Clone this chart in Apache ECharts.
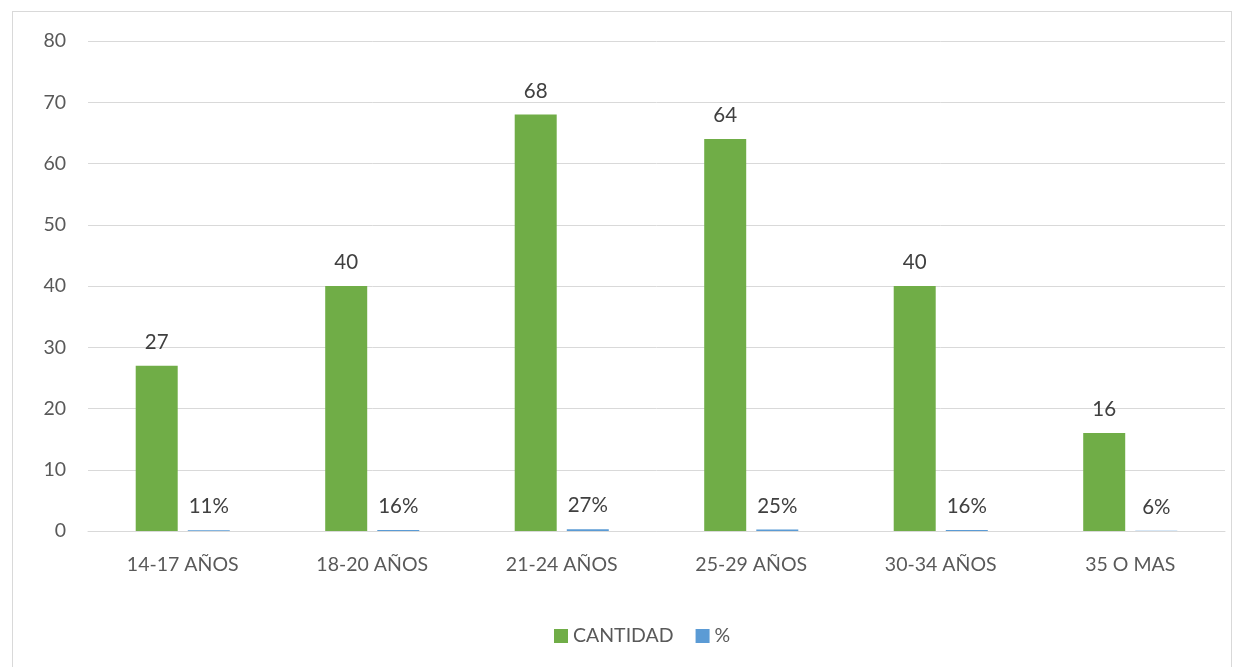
<!DOCTYPE html>
<html>
<head>
<meta charset="utf-8">
<script src="https://cdn.jsdelivr.net/npm/echarts@6/dist/echarts.min.js"></script>
<style>
  html, body { margin: 0; padding: 0; background: #fff; }
  #frame { position: absolute; left: 12px; top: 11px; width: 1220px; height: 670px; border: 1px solid #d9d9d9; box-sizing: border-box; }
  #chart { position: absolute; left: 0; top: 0; width: 1239px; height: 667px; }
</style>
</head>
<body>
<div id="frame"></div>
<div id="chart"></div>
<script>
// Age groups and counts
const categories = ['14-17 AÑOS', '18-20 AÑOS', '21-24 AÑOS', '25-29 AÑOS', '30-34 AÑOS', '35 O MAS'];
const cantidad = [27, 40, 68, 64, 40, 16];
const porcentaje = [0.11, 0.16, 0.27, 0.25, 0.16, 0.06];
const yTicks = { min: 0, max: 80, interval: 10 };

const FONT = 'Lato, "Open Sans", sans-serif';
const TEXT = '#595959';

const chart = echarts.init(document.getElementById('chart'));
chart.setOption({
  animation: false,
  textStyle: { fontFamily: FONT },
  grid: { left: 88, right: 14, top: 41, bottom: 136, containLabel: false },
  legend: {
    bottom: 16,
    left: 549,
    itemWidth: 14,
    itemHeight: 14,
    itemGap: 22,
    icon: 'rect',
    textStyle: { fontFamily: FONT, fontSize: 19.5, color: TEXT },
    data: ['CANTIDAD', '%']
  },
  xAxis: {
    type: 'category',
    data: categories,
    axisLine: { show: true, lineStyle: { color: '#d9d9d9', width: 1 } },
    axisTick: { show: false },
    axisLabel: { fontFamily: FONT, fontSize: 19.5, color: TEXT, margin: 24 }
  },
  yAxis: {
    type: 'value',
    min: yTicks.min,
    max: yTicks.max,
    interval: yTicks.interval,
    axisLine: { show: false },
    axisTick: { show: false },
    splitLine: { lineStyle: { color: '#d9d9d9', width: 1 } },
    axisLabel: { fontFamily: FONT, fontSize: 19.5, color: TEXT, margin: 22 }
  },
  series: [
    {
      name: 'CANTIDAD',
      type: 'bar',
      data: cantidad,
      barWidth: 42,
      barGap: '24%',
      itemStyle: { color: '#70AD47' },
      label: { show: true, position: 'top', distance: 13, fontFamily: FONT, fontSize: 20.5, color: '#404040' }
    },
    {
      name: '%',
      type: 'bar',
      data: porcentaje,
      barWidth: 42,
      itemStyle: { color: '#5B9BD5' },
      label: {
        show: true, position: 'top', distance: 13, fontFamily: FONT, fontSize: 20.5, color: '#404040',
        formatter: p => Math.round(p.value * 100) + '%'
      }
    }
  ]
});
</script>
</body>
</html>
